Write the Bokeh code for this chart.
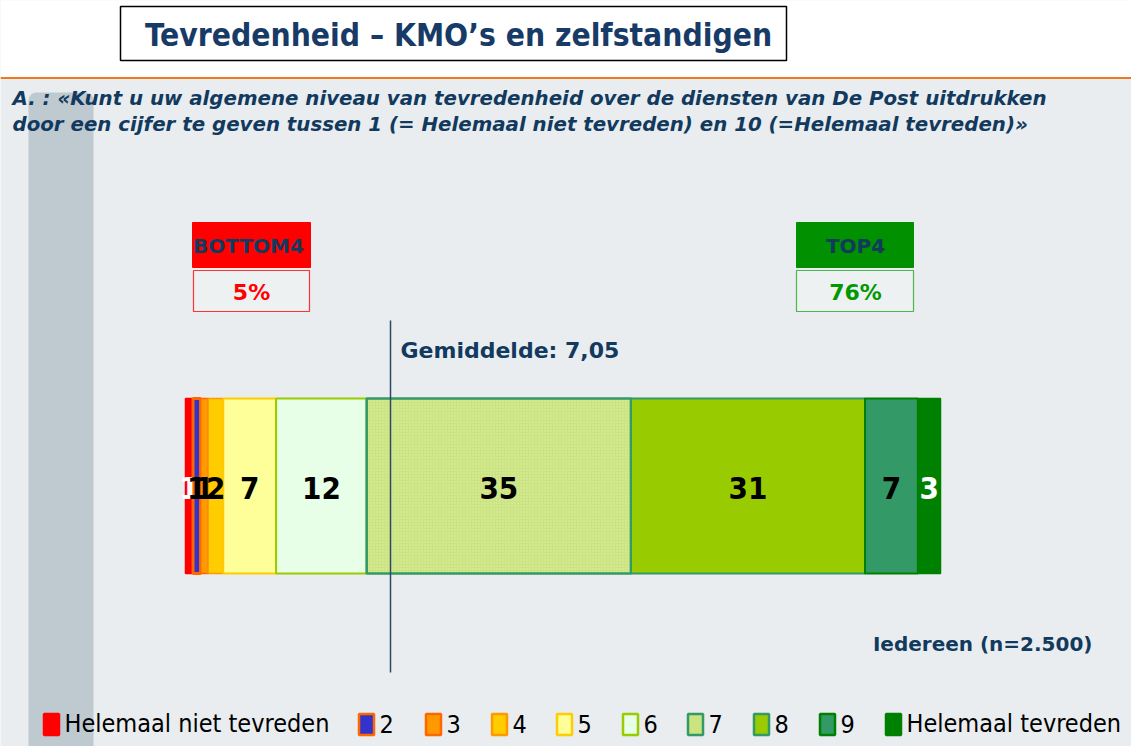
from bokeh.plotting import figure
from bokeh.models import Range1d, BoxAnnotation, ColumnDataSource
from bokeh.core.properties import value
from bokeh.embed import file_html
from bokeh.resources import INLINE

# ---------------- data ----------------
categories = ["Helemaal niet tevreden", "2", "3", "4", "5", "6", "7", "8", "9", "Helemaal tevreden"]
scores = [1, 1, 1, 2, 7, 12, 35, 31, 7, 3]
fill_colors = ["#FF0000", "#3333CC", "#FF9900", "#FFCC00", "#FFFF99", "#E6FFE6", "#CCE480", "#99CC00", "#339966", "#008000"]
line_colors = ["#FF0000", "#FF6600", "#FF6600", "#FF9900", "#FFCC00", "#99CC00", "#339966", "#339966", "#008000", "#008000"]
label_colors = ["white", "black", "black", "black", "black", "black", "black", "black", "black", "white"]
bottom4_pct = 5
top4_pct = 76
mean_score = "7,05"
sample_n = "2.500"
title = "Tevredenheid \u2013 KMO\u2019s en zelfstandigen"
question = ["A. : \u00abKunt u uw algemene niveau van tevredenheid over de diensten van De Post uitdrukken",
            "door een cijfer te geven tussen 1 (= Helemaal niet tevreden) en 10 (=Helemaal tevreden)\u00bb"]

NAVY = "#12395E"
NARROW = value("Liberation Sans Narrow, DejaVu Sans Condensed, sans-serif")
WIDE = value("DejaVu Sans")

W, H = 1131, 746
p = figure(width=W, height=H, x_range=Range1d(0, W), y_range=Range1d(H, 0),
           output_backend="svg", toolbar_location=None, x_axis_type=None, y_axis_type=None,
           min_border=0, min_border_left=0, min_border_right=0, min_border_top=0, min_border_bottom=0)
p.grid.visible = False
p.outline_line_color = None
p.background_fill_color = "#E9EDEF"
p.border_fill_color = "white"

# percent scale for the bar: 0% -> x 185, 100% -> x 940
px_per = 7.55
start = -185 / px_per
p.extra_x_ranges = {"pct": Range1d(start, start + W / px_per)}

# background pieces
p.add_layout(BoxAnnotation(left=0, right=W, top=-5, bottom=77, fill_color="white", fill_alpha=1,
                           line_color=None, level="underlay"))
p.add_layout(BoxAnnotation(left=28, right=93, top=92, bottom=780, fill_color="#BEC9D0", fill_alpha=1,
                           line_color=None, level="underlay", border_radius=8))
p.segment(x0=[0], y0=[77.5], x1=[W], y1=[77.5], line_color="#F07820", line_width=2)

# title box
p.quad(left=[120], right=[786], top=[6], bottom=[60], fill_color="white", line_color="black", line_width=1.5)
p.text(x=[458], y=[34], text=[title], text_font=NARROW, text_font_style="bold", text_font_size="31.5px",
       text_color="#173A66", text_align="center", text_baseline="middle")

# question
p.text(x=[12, 12], y=[98, 124], text=question, text_font=WIDE, text_font_style="bold italic",
       text_font_size="19.8px", text_color=NAVY, text_baseline="middle")

# bottom4 / top4 boxes
p.quad(left=[192, 796], right=[310, 913], top=[222, 222], bottom=[267, 267],
       fill_color=["#FF0000", "#009000"], line_color=["#FF0000", "#009000"])
p.quad(left=[193, 796], right=[309, 913], top=[270, 270], bottom=[311, 311],
       fill_color="#EEF1F2", line_color=["#FF3333", "#4CB84C"], line_width=1.2)
p.text(x=[248, 855], y=[245, 245], text=["BOTTOM4", "TOP4"], text_font=WIDE, text_font_style="bold",
       text_font_size="20px", text_color=NAVY, text_align="center", text_baseline="middle")
p.text(x=[251, 855], y=[292, 292], text=[f"{bottom4_pct}%", f"{top4_pct}%"], text_font=WIDE,
       text_font_style="bold", text_font_size="22px", text_color=["#FF0000", "#009900"],
       text_align="center", text_baseline="middle")

# bar
lefts, rights, mids = [], [], []
acc = 0
for s in scores:
    lefts.append(acc)
    acc += s
    rights.append(acc)
    mids.append(acc - s / 2)
hatch = [" "] * len(scores)
hatch[5] = "dot"
hatch[6] = "dot"
src = ColumnDataSource(dict(left=lefts, right=rights, mid=mids, fill=fill_colors, line=line_colors,
                            lab=[str(s) for s in scores], labc=label_colors, hatch=hatch,
                            lw=[1.5, 3, 1.5, 1.5, 2, 2, 2.5, 2, 2, 1.5]))
p.quad(left="left", right="right", top=398, bottom=573, source=src, x_range_name="pct",
       fill_color="fill", line_color="line", line_width="lw",
       hatch_pattern="hatch", hatch_color="white", hatch_alpha=0.35, hatch_scale=3, hatch_weight=1)
p.text(x="mid", y=487, text="lab", source=src, x_range_name="pct", text_font=NARROW,
       text_font_style="bold", text_font_size="31px", text_color="labc",
       text_align="center", text_baseline="middle")

# mean line and label
p.segment(x0=[390], y0=[320], x1=[390], y1=[672], line_color="#2B4A63", line_width=1.5)
p.text(x=[400], y=[350], text=[f"Gemiddelde: {mean_score}"], text_font=WIDE, text_font_style="bold",
       text_font_size="22px", text_color=NAVY, text_baseline="middle")

# base
p.text(x=[1092], y=[643], text=[f"Iedereen (n={sample_n})"], text_font=WIDE, text_font_style="bold",
       text_font_size="20px", text_color=NAVY, text_align="right", text_baseline="middle")

# legend
leg_x = [43, 358, 425, 491, 556, 622, 687, 753, 819, 885]
p.rect(x=[x + 8 for x in leg_x], y=[724] * 10, width=15, height=21, fill_color=fill_colors,
       line_color=line_colors, line_width=2.5)
p.text(x=[x + 21 for x in leg_x], y=[723] * 10, text=categories, text_font=NARROW,
       text_font_size="25px", text_color="black", text_baseline="middle")

open("out.html", "w").write(file_html(p, INLINE))
